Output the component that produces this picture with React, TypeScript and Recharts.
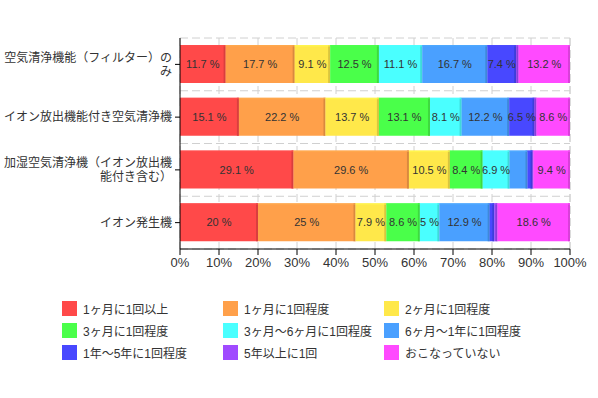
import { Bar, BarChart, CartesianGrid, LabelList, XAxis, YAxis } from "recharts";

// categories (top to bottom)
const categories = [
  "空気清浄機能（フィルター）のみ",
  "イオン放出機能付き空気清浄機",
  "加湿空気清浄機（イオン放出機能付き含む）",
  "イオン発生機",
];

const seriesNames = [
  "1ヶ月に1回以上",
  "1ヶ月に1回程度",
  "2ヶ月に1回程度",
  "3ヶ月に1回程度",
  "3ヶ月～6ヶ月に1回程度",
  "6ヶ月～1年に1回程度",
  "1年～5年に1回程度",
  "5年以上に1回",
  "おこなっていない",
];

const seriesColors = [
  "#ff4949",
  "#ffa04a",
  "#ffe84a",
  "#4aff4a",
  "#4affff",
  "#4aa0ff",
  "#4848ff",
  "#a04aff",
  "#ff4aff",
];

// percent values per series, one entry per category
const monthlyPlus = [11.7, 15.1, 29.1, 20];
const monthly = [17.7, 22.2, 29.6, 25];
const twoMonths = [9.1, 13.7, 10.5, 7.9];
const threeMonths = [12.5, 13.1, 8.4, 8.6];
const threeToSix = [11.1, 8.1, 6.9, 5];
const sixToYear = [16.7, 12.2, 4.6, 12.9];
const yearToFive = [7.4, 6.5, 1.3, 1.2];
const fivePlus = [0.6, 0.5, 0.2, 0.8];
const never = [13.2, 8.6, 9.4, 18.6];

const seriesValues = [
  monthlyPlus,
  monthly,
  twoMonths,
  threeMonths,
  threeToSix,
  sixToYear,
  yearToFive,
  fivePlus,
  never,
];

const xTicks = [0, 10, 20, 30, 40, 50, 60, 70, 80, 90, 100];

const data = categories.map((name, i) => {
  const row: Record<string, string | number> = { name };
  seriesValues.forEach((vals, s) => {
    row[`s${s}`] = vals[i];
  });
  return row;
});

const FONT = '"Liberation Sans", "Noto Sans CJK JP", sans-serif';

function shade(hex: string, k: number) {
  const n = parseInt(hex.slice(1), 16);
  const f = (c: number) => Math.max(0, Math.min(255, Math.round(c * k)));
  const r = f((n >> 16) & 255);
  const g = f((n >> 8) & 255);
  const b = f(n & 255);
  return `rgb(${r},${g},${b})`;
}

function BarShape(props: any) {
  const { x, y, width, height, fill } = props;
  if (!width || width <= 0) return null;
  const side = Math.min(2, width);
  return (
    <g>
      <rect x={x} y={y} width={width} height={height} fill={fill} />
      <rect x={x + width - side} y={y} width={side} height={height} fill={shade(fill, 0.85)} />
      <rect x={x} y={y} width={width} height={1.5} fill={shade(fill, 1.08)} opacity={0.6} />
    </g>
  );
}

function SegLabel(props: any) {
  const { x, y, width, height, value } = props;
  if (value == null || value < 5) return null;
  return (
    <text
      x={x + width / 2}
      y={y + height / 2}
      textAnchor="middle"
      dominantBaseline="central"
      fontSize={11}
      fontFamily={FONT}
      fill="#333"
    >
      {`${value} %`}
    </text>
  );
}

function wrap(s: string, max: number) {
  const out: string[] = [];
  for (let i = 0; i < s.length; i += max) out.push(s.slice(i, i + max));
  return out;
}

function YTick(props: any) {
  const { x, y, payload } = props;
  const lines = wrap(String(payload.value), 14);
  const lh = 14;
  return (
    <text
      x={x}
      y={y}
      textAnchor="end"
      fontSize={12}
      fontFamily={FONT}
      fill="#333"
    >
      {lines.map((l, i) => (
        <tspan key={i} x={x} y={y - ((lines.length - 1) * lh) / 2 + i * lh} dy="0.36em">
          {l}
        </tspan>
      ))}
    </text>
  );
}

export default function App() {
  return (
    <div
      style={{
        position: "absolute",
        left: 0,
        top: 0,
        width: 598,
        height: 398,
        background: "#fff",
        fontFamily: FONT,
      }}
    >
      <BarChart
        width={598}
        height={290}
        data={data}
        layout="vertical"
        margin={{ top: 38, right: 28, left: 0, bottom: 11 }}
        barSize={38}
      >
        <CartesianGrid
          stroke="#d0d0d0"
          strokeDasharray="8 4"
          horizontalCoordinatesGenerator={({ offset }: any) =>
            categories.map((_, i) => offset.top + (i * offset.height) / categories.length).concat([
              offset.top + offset.height,
            ])
          }
        />
        <XAxis
          type="number"
          domain={[0, 100]}
          ticks={xTicks}
          tickFormatter={(v) => `${v}%`}
          height={30}
          tickSize={6}
          tickMargin={3}
          axisLine={{ stroke: "#000" }}
          tickLine={{ stroke: "#000" }}
          tick={{ fontSize: 13, fill: "#333", fontFamily: FONT }}
        />
        <YAxis
          type="category"
          dataKey="name"
          width={180}
          tickSize={5}
          tickMargin={3}
          axisLine={{ stroke: "#000" }}
          tickLine={{ stroke: "#000" }}
          tick={<YTick />}
          interval={0}
        />
        {seriesNames.map((nm, s) => (
          <Bar
            key={nm}
            dataKey={`s${s}`}
            name={nm}
            stackId="a"
            fill={seriesColors[s]}
            shape={<BarShape />}
            isAnimationActive={false}
          >
            <LabelList dataKey={`s${s}`} content={<SegLabel />} />
          </Bar>
        ))}
      </BarChart>

      <div
        style={{
          position: "absolute",
          left: 62,
          top: 301,
          display: "grid",
          gridTemplateColumns: "161px 161px 161px",
          rowGap: 7,
          fontSize: 12,
          color: "#333",
        }}
      >
        {seriesNames.map((nm, s) => (
          <div key={nm} style={{ display: "flex", alignItems: "center", height: 15, whiteSpace: "nowrap" }}>
            <span
              style={{
                display: "inline-block",
                width: 15,
                height: 15,
                background: seriesColors[s],
                marginRight: 6,
                flexShrink: 0,
              }}
            />
            <span>{nm}</span>
          </div>
        ))}
      </div>
    </div>
  );
}
